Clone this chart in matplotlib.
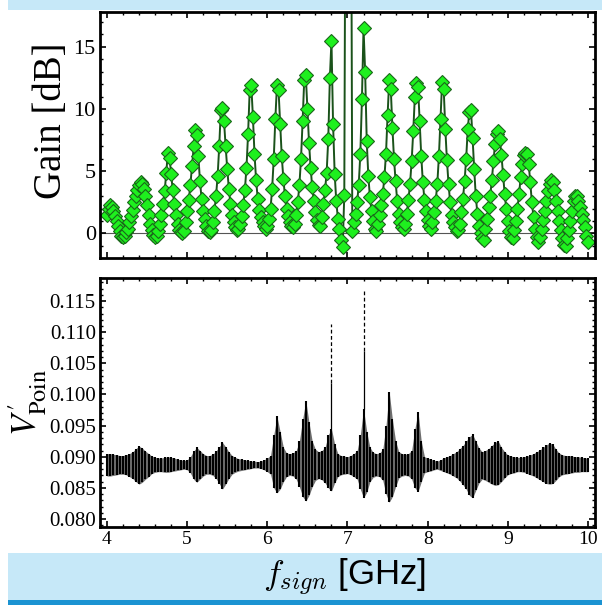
import numpy as np
import matplotlib
matplotlib.use("Agg")
import matplotlib.pyplot as plt
from matplotlib.patches import Rectangle
from matplotlib.ticker import MultipleLocator, FormatStrFormatter

# ---------------- data ----------------
# Gain sweep: 4.00 ... 10.00 GHz in 0.02 GHz steps
gain_freq_start = 4.0
gain_freq_step = 0.02

gain_4ghz = [1.5, 2.0, 2.3, 2.1, 1.8, 1.4, 1.0, 0.6, 0.2, -0.2, -0.3,
             -0.2, 0.1, 0.4, 0.9, 1.4, 1.9, 2.5, 3.0, 3.5, 3.9, 4.1, 4.0, 3.6, 3.0, 2.3, 1.5, 0.8, 0.3, -0.1, -0.3,
             -0.2, 0.2, 0.8, 1.5, 2.4, 3.4, 4.9, 6.5, 6.1, 4.8, 3.5, 2.4, 1.5, 0.8, 0.3, 0.1, 0.0,
             0.2, 0.9]
gain_5ghz = [1.8, 2.7, 3.9, 5.4, 7.0, 8.3, 7.9, 6.2, 4.2, 2.8, 1.8, 1.2, 0.6, 0.2, 0.1,
             0.3, 0.9, 1.8, 3.0, 4.6, 7.0, 9.9, 10.1, 9.0, 7.0, 5.2, 3.6, 2.4, 1.5, 0.9, 0.5, 0.3,
             0.4, 0.8, 1.4, 2.3, 3.5, 5.3, 8.0, 11.5, 11.9, 9.4, 6.4, 4.3, 2.8, 1.9, 1.3, 0.9, 0.6, 0.4]
gain_6ghz = [0.6, 1.2, 2.0, 3.6, 6.0, 9.2, 11.9, 11.5, 8.8, 6.2, 4.4, 3.0, 2.0, 1.4, 0.9, 0.6,
             0.5, 0.8, 1.5, 2.5, 3.9, 6.0, 9.0, 12.3, 12.7, 10.0, 7.3, 5.3, 3.7, 2.6, 1.7, 1.1, 0.7,
             0.6, 1.3, 2.4, 3.5, 4.9, 7.6, 12.5, 15.5, 8.8, 4.8, 2.6, 1.2, 0.4, -0.5, -1.1, 3.1,
             40.0]
gain_7ghz = [45.0, 45.0, 40.0,
             0.2, 0.9, 1.6, 2.5, 3.9, 6.4, 10.8, 16.5, 13.0, 7.4, 4.6, 2.9, 1.8, 1.0, 0.4, 0.2,
             0.8, 1.5, 2.3, 3.2, 4.5, 6.4, 9.5, 12.3, 11.6, 8.5, 6.0, 4.2, 2.6, 1.6, 0.9, 0.5, 0.4,
             0.8, 1.6, 2.7, 4.0, 5.8, 8.2, 11.0, 12.1, 11.8, 9.0, 6.2, 4.1, 2.7, 1.8]
gain_8ghz = [1.1, 0.6, 0.4,
             0.9, 1.7, 2.6, 4.0, 6.2, 9.2, 12.2, 11.6, 8.4, 5.9, 4.0, 2.5, 1.5, 0.9, 0.5, 0.2,
             0.3, 0.8, 1.7, 2.8, 4.2, 6.0, 8.4, 9.8, 9.9, 7.7, 5.2, 3.0, 1.6, 0.6, 0.0, -0.4, -0.5,
             0.4, 1.2, 2.1, 3.0, 4.3, 5.8, 7.2, 8.0, 8.2, 7.6, 6.3, 4.7, 3.2, 2.0]
gain_9ghz = [1.0, 0.2, -0.3, -0.4,
             0.3, 1.0, 2.0, 3.2, 4.5, 5.6, 6.3, 6.5, 6.4, 5.6, 4.1, 2.5, 1.3, 0.4, -0.3, -0.7,
             -0.3, 0.4, 1.1, 1.8, 2.6, 3.4, 4.0, 4.3, 4.1, 3.5, 2.6, 1.8, 1.0, 0.3, -0.4, -0.9, -1.0,
             -0.4, 0.3, 1.0, 1.8, 2.6, 3.0, 3.0, 2.6, 2.1, 1.6, 1.1, 0.5, -0.2, -0.7]

# Poincare voltage envelope: 4.00 ... 10.00 GHz in 0.04 GHz steps
v_freq_start = 4.0
v_freq_step = 0.04

v_upper_4ghz = [.0905, .0905, .0904, .0903, .0902, .0902, .0903, .0905, .0908, .0913, .0917, .0914, .0909,
                .0905, .0901, .0899, .0898, .0898, .0899, .0900, .0899, .0898, .0896, .0895, .0894]
v_lower_4ghz = [.0869, .0869, .0870, .0871, .0872, .0872, .0871, .0868, .0865, .0860, .0856, .0859, .0864,
                .0868, .0873, .0875, .0876, .0876, .0875, .0875, .0876, .0877, .0878, .0879, .0880]
v_upper_5ghz = [.0895, .0900, .0909, .0915, .0910, .0905, .0902, .0902, .0904, .0909, .0916, .0923, .0916,
                .0908, .0902, .0899, .0897, .0896, .0895, .0894, .0893, .0893, .0892, .0893, .0895]
v_lower_5ghz = [.0879, .0874, .0864, .0859, .0864, .0869, .0872, .0872, .0870, .0865, .0857, .0848, .0856,
                .0865, .0872, .0875, .0877, .0878, .0879, .0880, .0881, .0882, .0882, .0881, .0879]
v_upper_6ghz = [.0898, .0902, .0935, .0965, .0940, .0915, .0906, .0905, .0906, .0910, .0925, .0960, .0990,
                .0955, .0925, .0912, .0908, .0910, .0915, .0935, .0945, .0920, .0905, .0902, .0901]
v_lower_6ghz = [.0876, .0872, .0850, .0842, .0848, .0860, .0868, .0870, .0869, .0864, .0852, .0836, .0829,
                .0838, .0852, .0862, .0865, .0863, .0858, .0850, .0845, .0858, .0868, .0871, .0872]
v_upper_7ghz = [.0900, .0902, .0905, .0910, .0935, .0977, .0940, .0915, .0907, .0905, .0906, .0912, .0950,
                .1004, .0960, .0925, .0908, .0905, .0904, .0905, .0910, .0945, .0972, .0925, .0900]
v_lower_7ghz = [.0873, .0871, .0868, .0864, .0848, .0834, .0843, .0860, .0867, .0869, .0868, .0862, .0840,
                .0827, .0836, .0852, .0866, .0869, .0870, .0869, .0864, .0850, .0844, .0860, .0874]
v_upper_8ghz = [.0898, .0896, .0894, .0893, .0895, .0898, .0900, .0902, .0905, .0908, .0913, .0918, .0925,
                .0932, .0936, .0925, .0914, .0908, .0910, .0913, .0918, .0923, .0925, .0915, .0908]
v_lower_8ghz = [.0876, .0877, .0879, .0880, .0878, .0876, .0874, .0872, .0869, .0866, .0861, .0855, .0848,
                .0838, .0834, .0846, .0858, .0864, .0862, .0859, .0856, .0854, .0855, .0860, .0866]
v_upper_9ghz = [.0903, .0901, .0900, .0899, .0899, .0900, .0901, .0903, .0905, .0908, .0911, .0915, .0919,
                .0922, .0920, .0912, .0906, .0903, .0902, .0902, .0901, .0900, .0900, .0899, .0898, .0898]
v_lower_9ghz = [.0871, .0873, .0874, .0876, .0876, .0875, .0873, .0871, .0869, .0866, .0863, .0860, .0857,
                .0856, .0857, .0862, .0868, .0871, .0872, .0873, .0874, .0875, .0875, .0876, .0876, .0876]

# isolated spikes of the voltage trace
spike_freq = [6.80, 7.20]
spike_solid_top = [0.1018, 0.1070]
spike_top = [0.1113, 0.1170]

gain_ticks = [0, 5, 10, 15]
v_ticks = [0.080, 0.085, 0.090, 0.095, 0.100, 0.105, 0.110, 0.115]
freq_ticks = [4, 5, 6, 7, 8, 9, 10]

# ---------------- assemble ----------------
gain = np.array(gain_4ghz + gain_5ghz + gain_6ghz + gain_7ghz + gain_8ghz + gain_9ghz)
gain_freq = gain_freq_start + gain_freq_step * np.arange(len(gain))
v_upper = np.array(v_upper_4ghz + v_upper_5ghz + v_upper_6ghz + v_upper_7ghz + v_upper_8ghz + v_upper_9ghz)
v_lower = np.array(v_lower_4ghz + v_lower_5ghz + v_lower_6ghz + v_lower_7ghz + v_lower_8ghz + v_lower_9ghz)
v_freq = v_freq_start + v_freq_step * np.arange(len(v_upper))

# ---------------- figure ----------------
W, H = 602, 605
fig = plt.figure(figsize=(W / 100, H / 100), dpi=100)


def fx(px):
    return px / W


def fy(py):
    return 1 - py / H


band = '#c6e8f8'
fig.patches.append(Rectangle((fx(8), fy(10)), 1 - fx(8), 10 / H, transform=fig.transFigure,
                             facecolor=band, edgecolor='none', zorder=0))
fig.patches.append(Rectangle((fx(8), fy(600)), 1 - fx(8), (600 - 553) / H, transform=fig.transFigure,
                             facecolor=band, edgecolor='none', zorder=0))
fig.patches.append(Rectangle((fx(8), 0), 1 - fx(8), 5 / H, transform=fig.transFigure,
                             facecolor='#1b93d2', edgecolor='none', zorder=0))

ax1 = fig.add_axes([fx(100), fy(258), fx(595) - fx(100), (258 - 12) / H])
ax2 = fig.add_axes([fx(100), fy(527), fx(595) - fx(100), (527 - 278) / H])

serif = 'Liberation Serif'


def style_axes(ax, ysize):
    for s in ax.spines.values():
        s.set_linewidth(2.0)
    ax.tick_params(which='both', direction='in', top=True, right=True, colors='black')
    ax.tick_params(which='major', length=4.5, width=1.2, pad=3)
    ax.tick_params(which='minor', length=2.3, width=1.0)
    ax.tick_params(axis='y', labelsize=ysize)


# --- top: gain ---
ax1.axhline(0, color='#555555', lw=0.8, zorder=1)
ax1.plot(gain_freq, gain, color='#1a521a', lw=1.4, marker='D', markersize=7.0,
         markerfacecolor='#1ef01e', markeredgecolor='#1a661a', markeredgewidth=0.8, zorder=2)
ax1.set_xlim(3.913, 10.087)
ax1.set_ylim(-1.97, 17.8)
ax1.set_yticks(gain_ticks)
ax1.yaxis.set_minor_locator(MultipleLocator(1))
ax1.xaxis.set_major_locator(MultipleLocator(1))
ax1.xaxis.set_minor_locator(MultipleLocator(0.2))
ax1.tick_params(axis='x', labelbottom=False)
style_axes(ax1, 16)
for lab in ax1.get_yticklabels():
    lab.set_fontfamily(serif)

# --- bottom: voltage ---
ax2.fill_between(v_freq, v_lower, v_upper, color='#6e6e6e', lw=0, zorder=1)
ax2.vlines(v_freq, v_lower, v_upper, color='black', lw=1.5, zorder=2)
upper_at_spike = [v_upper[np.argmin(np.abs(v_freq - f))] for f in spike_freq]
ax2.vlines(spike_freq, upper_at_spike, spike_solid_top, color='black', lw=0.9, zorder=2)
ax2.vlines(spike_freq, spike_solid_top, spike_top, color='black', lw=0.9,
           linestyles=(0, (3, 2)), zorder=2)
ax2.set_xlim(3.913, 10.087)
ax2.set_ylim(0.07872, 0.1187)
ax2.set_yticks(v_ticks)
ax2.yaxis.set_major_formatter(FormatStrFormatter('%.3f'))
ax2.yaxis.set_minor_locator(MultipleLocator(0.001))
ax2.set_xticks(freq_ticks)
ax2.xaxis.set_minor_locator(MultipleLocator(0.2))
style_axes(ax2, 15)
ax2.tick_params(axis='x', labelsize=14)
for lab in ax2.get_yticklabels() + ax2.get_xticklabels():
    lab.set_fontfamily(serif)

# --- labels ---
fig.text(fx(52), fy(121), 'Gain [dB]', rotation=90, ha='center', va='center',
         fontsize=28, fontfamily=serif)
fig.text(fx(28), fy(402), r"$V^{\prime}_{\mathrm{Poin}}$", rotation=90, ha='center', va='center',
         fontsize=25, math_fontfamily='stix')
fig.text(fx(345), fy(577), r"$f_{sign}$ [GHz]", ha='center', va='center',
         fontsize=25, fontfamily='Liberation Sans', math_fontfamily='cm')

fig.savefig('out.png', dpi=100)
